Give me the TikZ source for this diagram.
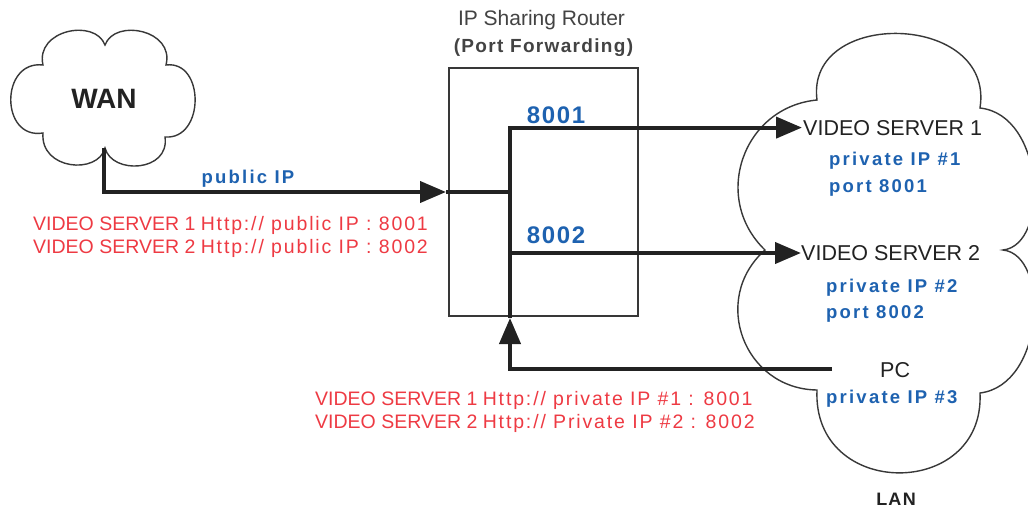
\documentclass[tikz,border=0pt]{standalone}
\usepackage{fontspec}
\setmainfont{Liberation Sans}
\newfontfamily\trackB[LetterSpace=12]{Liberation Sans}
\newfontfamily\trackR[LetterSpace=7]{Liberation Sans}
\newfontfamily\trackRed[LetterSpace=9.5]{Liberation Sans}
\usetikzlibrary{arrows.meta}
\definecolor{ipblue}{HTML}{1E62B0}
\definecolor{ipred}{HTML}{EE3A43}
\definecolor{ink}{HTML}{222222}
\begin{document}
\begin{tikzpicture}[x=1pt,y=-1pt,
  conn/.style={line width=4pt, draw=ink},
  tip/.style={-{Triangle[length=26pt,width=21pt]}},
  thin/.style={line width=1.4pt, draw=ink!90},
  lbl/.style={inner sep=0pt, anchor=base west},
  blk/.style={lbl, text=ink, font=\fontsize{21.5}{24}\selectfont},
  blu/.style={lbl, text=ipblue, font=\trackB\bfseries\fontsize{18.5}{20}\selectfont},
  bigblu/.style={inner sep=0pt, anchor=base, text=ipblue, font=\trackR\bfseries\fontsize{24}{26}\selectfont},
  red/.style={lbl, text=ipred, font=\fontsize{19.5}{22}\selectfont},
]
\useasboundingbox (0,0) rectangle (1028,511);
\fill[white] (0,0) rectangle (1028,511);

% WAN cloud
\draw[thin] (43,65) .. controls (35,30) and (95,18) .. (105,45)
 .. controls (115,18) and (175,30) .. (166,65)
 .. controls (205,60) and (205,140) .. (165,137)
 .. controls (170,172) and (112,175) .. (105,148)
 .. controls (98,175) and (40,170) .. (43,133)
 .. controls (0,140) and (0,60) .. (43,65) -- cycle;
\node[inner sep=0pt, anchor=base, text=ink, font=\bfseries\fontsize{28}{30}\selectfont] (wan) at (104,108) {WAN};

% LAN cloud
\draw[thin] (817,100) .. controls (805,8) and (995,12) .. (980,108)
 .. controls (1045,115) and (1050,245) .. (1003,250)
 .. controls (1050,255) and (1045,385) .. (980,393)
 .. controls (985,500) and (812,500) .. (817,390)
 .. controls (744,389) and (710,299) .. (765,250)
 .. controls (711,198) and (743,107) .. (817,100) -- cycle;
\node[inner sep=0pt, anchor=base, text=ink, font=\trackR\bfseries\fontsize{18}{20}\selectfont] (lan) at (896,505) {LAN};

% Router
\node[thin, draw, minimum width=189pt, minimum height=248pt, inner sep=0pt] (router) at (543.5,192) {};
\node[inner sep=0pt, anchor=base, text=ink!85, font=\fontsize{21}{24}\selectfont] (title1) at (541.5,26) {IP Sharing Router};
\node[inner sep=0pt, anchor=base, text=ink!85, font=\trackR\bfseries\fontsize{19}{22}\selectfont] (title2) at (543.5,53) {(Port Forwarding)};
\node[bigblu] (p1) at (556,123) {8001};
\node[bigblu] (p2) at (556,243) {8002};

% LAN texts
\node[blk] (vs1) at (803,135) {VIDEO SERVER 1};
\node[blu] (ip1) at (829,165) {private IP \#1};
\node[blu] (port1) at (829,192) {port 8001};
\node[blk] (vs2) at (801,260) {VIDEO SERVER 2};
\node[blu] (ip2) at (826,292) {private IP \#2};
\node[blu] (port2) at (826,318) {port 8002};
\node[blk] (pc) at (880,377) {PC};
\node[blu] (ip3) at (826,403) {private IP \#3};

% WAN side texts
\node[blu, anchor=base] (pub) at (248,183) {public IP};
\node[red] (r1a) at (33,230) {VIDEO SERVER 1 {\trackRed Http:// public IP : 8001}};
\node[red] (r1b) at (33,253) {VIDEO SERVER 2 {\trackRed Http:// public IP : 8002}};
\node[red] (r2a) at (315,405) {VIDEO SERVER 1 {\trackRed Http:// private IP \#1 : 8001}};
\node[red] (r2b) at (315,428) {VIDEO SERVER 2 {\trackRed Http:// Private IP \#2 : 8002}};

% connector points
\coordinate (wanb) at (104,148);
\coordinate (rin) at (446,192);
\coordinate (hub) at (510,192);
\coordinate (rbot) at (510,318);
\coordinate (hub2) at (510,253);
\coordinate (pcport) at (832,369);

% connectors
\draw[conn,tip] (wanb) |- (rin);
\draw[conn] (rin) -- (hub);
\draw[conn,tip] (pcport) -| (rbot);
\draw[conn,tip] (rbot) |- ([xshift=-1pt]vs1.west);
\draw[conn,tip] (hub2) -- (hub2 -| vs2.west);
\end{tikzpicture}
\end{document}
